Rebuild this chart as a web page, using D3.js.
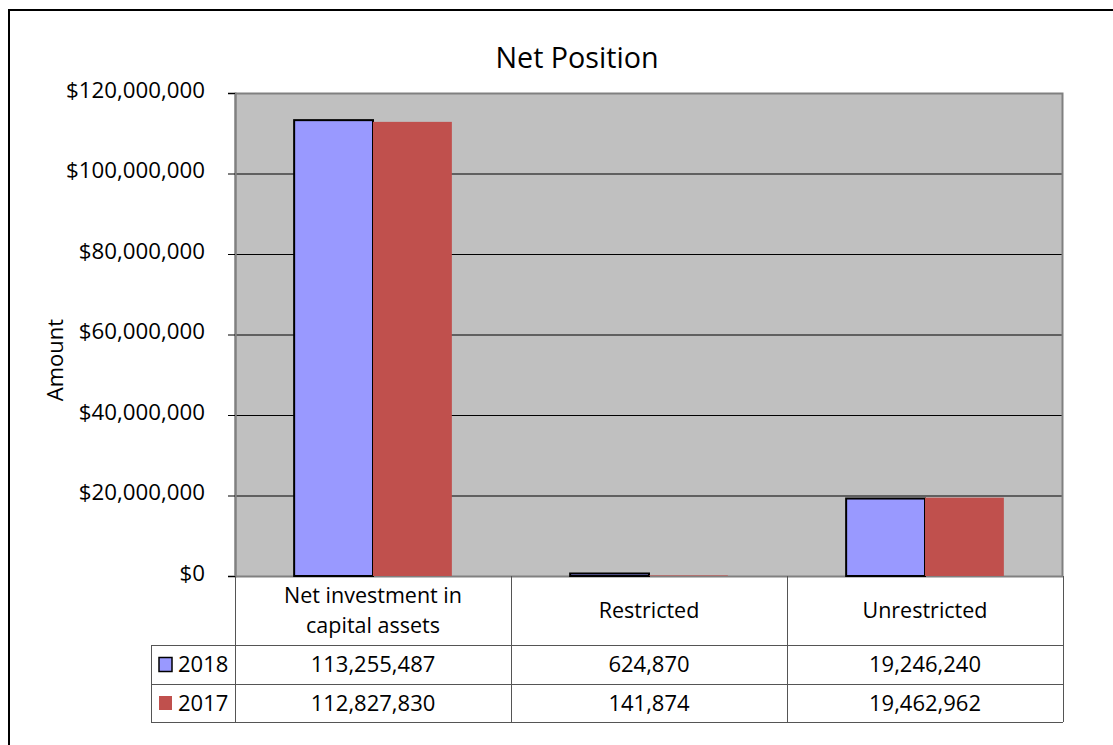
<!DOCTYPE html>
<html>
<head>
<meta charset="utf-8">
<script src="https://cdn.jsdelivr.net/npm/d3@7"></script>
<style>
  body { margin: 0; background: #fff; }
  svg { display: block; font-family: "Open Sans", sans-serif; }
</style>
</head>
<body>
<div id="chart"></div>
<script>
// chart data
const categories = ["Net investment in capital assets", "Restricted", "Unrestricted"]
const categoryLines = [["Net investment in", "capital assets"], ["Restricted"], ["Unrestricted"]]
const years = ["2018", "2017"]
const values2018 = [113255487, 624870, 19246240]
const values2017 = [112827830, 141874, 19462962]
const yTicks = [0, 20000000, 40000000, 60000000, 80000000, 100000000, 120000000]

const colors = { "2018": "#9999ff", "2017": "#c0504d" }
const strokes = { "2018": "#000", "2017": "none" }
const seriesValues = { "2018": values2018, "2017": values2017 }

const width = 1113
const height = 745
const plot = { left: 235, right: 1063, top: 93, bottom: 576 }

const svg = d3.select("#chart")
  .append("svg")
  .attr("width", width)
  .attr("height", height)

// outer frame (runs off the page on the right and bottom)
svg.append("rect")
  .attr("x", 9).attr("y", 10)
  .attr("width", 1130).attr("height", 760)
  .attr("fill", "none")
  .attr("stroke", "#000")
  .attr("stroke-width", 2)

const x = d3.scaleBand().domain(categories).range([plot.left, plot.right])
const xs = d3.scaleBand().domain(years).range([0, x.bandwidth()]).paddingOuter(0.75)
const y = d3.scaleLinear().domain([0, 120000000]).range([plot.bottom, plot.top])

// plot background
svg.append("rect")
  .attr("x", plot.left).attr("y", plot.top)
  .attr("width", plot.right - plot.left).attr("height", plot.bottom - plot.top)
  .attr("fill", "#c0c0c0")

// gridlines
svg.append("g")
  .selectAll("line")
  .data(yTicks.slice(1, -1))
  .enter()
  .append("line")
  .attr("x1", plot.left).attr("x2", plot.right)
  .attr("y1", d => y(d) + 0.5).attr("y2", d => y(d) + 0.5)
  .attr("stroke", "#000")

svg.append("rect")
  .attr("x", plot.left + 0.5).attr("y", plot.top + 0.5)
  .attr("width", plot.right - plot.left - 1).attr("height", plot.bottom - plot.top)
  .attr("fill", "none")
  .attr("stroke", "#808080")
  .attr("stroke-width", 2)

// bars
years.forEach(yr => {
  svg.append("g")
    .selectAll("rect")
    .data(seriesValues[yr])
    .enter()
    .append("rect")
    .attr("x", (d, i) => x(categories[i]) + xs(yr))
    .attr("y", d => y(d))
    .attr("width", xs.bandwidth())
    .attr("height", d => plot.bottom - y(d))
    .attr("fill", colors[yr])
    .attr("stroke", strokes[yr])
    .attr("stroke-width", 2)
})

// y axis
const yAxis = d3.axisLeft(y)
  .tickValues(yTicks)
  .tickFormat(d3.format("$,"))
  .tickSize(7)
  .tickPadding(23)

const yg = svg.append("g")
  .attr("transform", `translate(${plot.left},0)`)
  .call(yAxis)
yg.attr("font-family", null).attr("font-size", null)
yg.select(".domain").attr("stroke", "#808080").attr("stroke-width", 2)
yg.selectAll(".tick line").attr("stroke", "#000")
yg.selectAll(".tick text")
  .attr("font-size", 22.3)
  .attr("fill", "#000")
  .attr("dy", "0.2em")

svg.append("text")
  .attr("transform", "translate(63,360) rotate(-90)")
  .attr("text-anchor", "middle")
  .attr("font-size", 22)
  .text("Amount")

svg.append("text")
  .attr("x", 577).attr("y", 68)
  .attr("text-anchor", "middle")
  .attr("font-size", 28.7)
  .text("Net Position")

// data table
const rowTops = [576, 645, 684, 722]
const tableLeft = 151
const lineColor = "#555"
const tg = svg.append("g")

// horizontal lines
rowTops.slice(1).forEach(t => {
  tg.append("line")
    .attr("x1", tableLeft).attr("x2", plot.right)
    .attr("y1", t + 0.5).attr("y2", t + 0.5)
    .attr("stroke", lineColor)
})

// vertical lines
const vx = categories.map(c => x(c)).concat([plot.right])
tg.selectAll("line.v")
  .data(vx)
  .enter()
  .append("line")
  .attr("class", "v")
  .attr("x1", d => Math.round(d) + 0.5).attr("x2", d => Math.round(d) + 0.5)
  .attr("y1", rowTops[0]).attr("y2", rowTops[3])
  .attr("stroke", lineColor)
tg.append("line")
  .attr("x1", tableLeft + 0.5).attr("x2", tableLeft + 0.5)
  .attr("y1", rowTops[1]).attr("y2", rowTops[3])
  .attr("stroke", lineColor)

// category headers
categoryLines.forEach((lines, i) => {
  const cx = x(categories[i]) + x.bandwidth() / 2
  const mid = (rowTops[0] + rowTops[1]) / 2
  lines.forEach((ln, j) => {
    tg.append("text")
      .attr("x", cx)
      .attr("y", mid + (j - (lines.length - 1) / 2) * 30)
      .attr("dy", "0.35em")
      .attr("text-anchor", "middle")
      .attr("font-size", 21.5)
      .text(ln)
  })
})

// value rows with legend keys
const fmt = d3.format(",")
years.forEach((yr, r) => {
  const mid = (rowTops[r + 1] + rowTops[r + 2]) / 2
  tg.append("rect")
    .attr("x", 159).attr("y", mid - 7)
    .attr("width", 13).attr("height", 14)
    .attr("fill", colors[yr])
    .attr("stroke", strokes[yr])
    .attr("stroke-width", 1.5)
  tg.append("text")
    .attr("x", 178).attr("y", mid)
    .attr("dy", "0.36em")
    .attr("font-size", 22)
    .text(yr)
  seriesValues[yr].forEach((v, i) => {
    tg.append("text")
      .attr("x", x(categories[i]) + x.bandwidth() / 2)
      .attr("y", mid)
      .attr("dy", "0.36em")
      .attr("text-anchor", "middle")
      .attr("font-size", 22)
      .text(fmt(v))
  })
})
</script>
</body>
</html>
